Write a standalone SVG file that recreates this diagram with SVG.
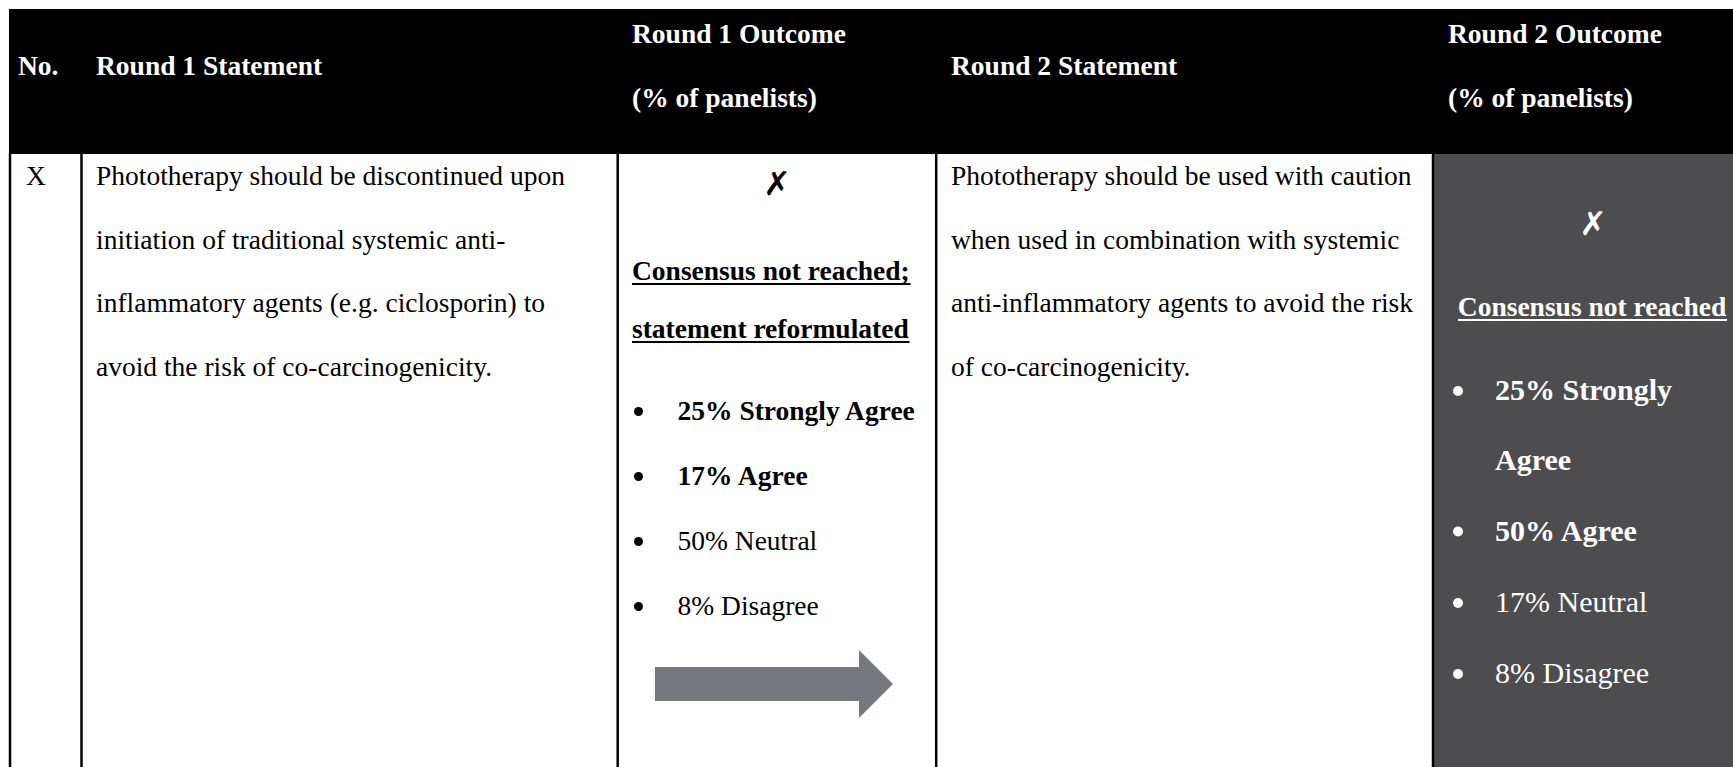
<svg xmlns="http://www.w3.org/2000/svg" width="1733" height="767" viewBox="0 0 1733 767">
  <style>
    .hd { font-family: "Liberation Serif", "Times New Roman", serif; font-weight: bold; font-size: 27.5px; fill: #ffffff; }
    .tx { font-family: "Liberation Serif", "Times New Roman", serif; font-size: 27.5px; fill: #000000; }
    .b { font-weight: bold; }
    .tx4 { font-family: "Liberation Serif", "Times New Roman", serif; font-size: 30px; fill: #ffffff; }
    .mark { font-family: "DejaVu Sans", sans-serif; font-weight: bold; font-size: 33px; text-anchor: middle; }
    .rule { stroke: #000000; stroke-width: 2.5; }
  </style>

  <rect x="0" y="0" width="1733" height="767" fill="#ffffff"/>

  <!-- header band -->
  <g id="header">
    <rect x="9" y="9" width="1724" height="145" fill="#000000"/>
    <text class="hd" x="18" y="75">No.</text>
    <text class="hd" x="96" y="75">Round 1 Statement</text>
    <text class="hd" x="632" y="43">Round 1 Outcome</text>
    <text class="hd" x="632" y="107">(% of panelists)</text>
    <text class="hd" x="951" y="75">Round 2 Statement</text>
    <text class="hd" x="1448" y="43">Round 2 Outcome</text>
    <text class="hd" x="1448" y="107">(% of panelists)</text>
  </g>

  <!-- shaded outcome column -->
  <rect x="1434" y="154" width="299" height="613" fill="#4d4c4e"/>

  <!-- cell rules -->
  <g id="grid">
    <line class="rule" x1="10" y1="153" x2="10" y2="767"/>
    <line class="rule" x1="81.5" y1="153" x2="81.5" y2="767"/>
    <line class="rule" x1="617.7" y1="153" x2="617.7" y2="767"/>
    <line class="rule" x1="936.2" y1="153" x2="936.2" y2="767"/>
    <line class="rule" x1="1433" y1="153" x2="1433" y2="767"/>
  </g>

  <g id="row-no">
    <text class="tx" x="26" y="185">X</text>
  </g>

  <g id="round1-statement">
    <text class="tx" x="96" y="185">Phototherapy should be discontinued upon</text>
    <text class="tx" x="96" y="248.5">initiation of traditional systemic anti-</text>
    <text class="tx" x="96" y="312">inflammatory agents (e.g. ciclosporin) to</text>
    <text class="tx" x="96" y="375.5">avoid the risk of co-carcinogenicity.</text>
  </g>

  <g id="round1-outcome">
    <text class="mark" x="777" y="195" fill="#000000">✗</text>
    <text class="tx b" x="632" y="280">Consensus not reached;</text>
    <line x1="632" y1="284" x2="910.5" y2="284" stroke="#000000" stroke-width="2"/>
    <text class="tx b" x="632" y="338">statement reformulated</text>
    <line x1="632" y1="342" x2="909.5" y2="342" stroke="#000000" stroke-width="2"/>
    <circle cx="638.5" cy="411.5" r="4.5" fill="#000000"/>
    <text class="tx b" x="677.5" y="420">25% Strongly Agree</text>
    <circle cx="638.5" cy="476.5" r="4.5" fill="#000000"/>
    <text class="tx b" x="677.5" y="485">17% Agree</text>
    <circle cx="638.5" cy="541.5" r="4.5" fill="#000000"/>
    <text class="tx" x="677.5" y="550">50% Neutral</text>
    <circle cx="638.5" cy="606.5" r="4.5" fill="#000000"/>
    <text class="tx" x="677.5" y="615">8% Disagree</text>
  </g>

  <g id="connectors">
    <polygon points="655,667 859,667 859,650 893,684 859,718 859,701 655,701" fill="#75787d"/>
  </g>

  <g id="round2-statement">
    <text class="tx" x="951" y="185">Phototherapy should be used with caution</text>
    <text class="tx" x="951" y="248.5">when used in combination with systemic</text>
    <text class="tx" x="951" y="312">anti-inflammatory agents to avoid the risk</text>
    <text class="tx" x="951" y="375.5">of co-carcinogenicity.</text>
  </g>

  <g id="round2-outcome">
    <text class="mark" x="1593" y="235" fill="#ffffff">✗</text>
    <text class="hd" x="1592" y="316" text-anchor="middle">Consensus not reached</text>
    <line x1="1458" y1="320" x2="1727" y2="320" stroke="#ffffff" stroke-width="2"/>
    <circle cx="1458" cy="391" r="5" fill="#ffffff"/>
    <text class="tx4 b" x="1495" y="400">25% Strongly</text>
    <text class="tx4 b" x="1495" y="470">Agree</text>
    <circle cx="1458" cy="531.5" r="5" fill="#ffffff"/>
    <text class="tx4 b" x="1495" y="540.5">50% Agree</text>
    <circle cx="1458" cy="603" r="5" fill="#ffffff"/>
    <text class="tx4" x="1495" y="612">17% Neutral</text>
    <circle cx="1458" cy="674" r="5" fill="#ffffff"/>
    <text class="tx4" x="1495" y="683">8% Disagree</text>
  </g>
</svg>
